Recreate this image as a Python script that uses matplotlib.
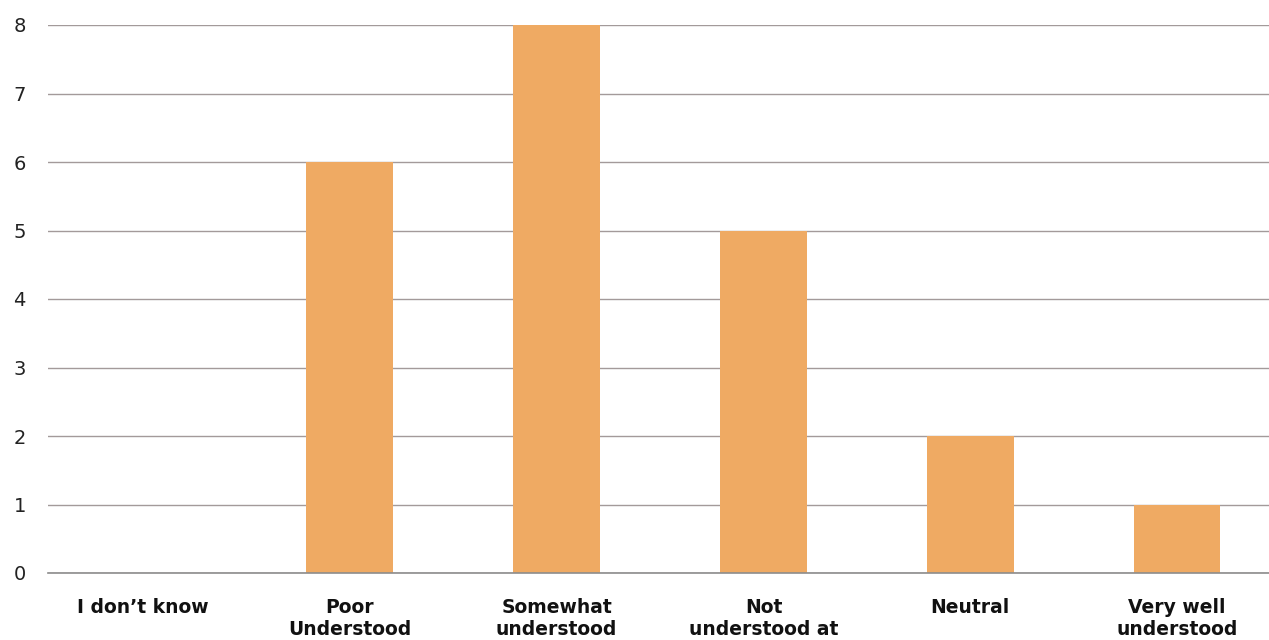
import matplotlib
matplotlib.use("Agg")
import matplotlib.pyplot as plt

# Survey responses: how well the topic is understood
categories = ["I don\u2019t know", "Poor\nUnderstood", "Somewhat\nunderstood",
              "Not\nunderstood at\nall", "Neutral", "Very well\nunderstood"]
counts = [0, 6, 8, 5, 2, 1]
y_ticks = [0, 1, 2, 3, 4, 5, 6, 7, 8]

bar_color = "#EFAA63"
grid_color = "#A39A9A"

plt.rcParams["font.family"] = ["DejaVu Sans"]

fig = plt.figure(figsize=(12.69, 6.40), dpi=100)
ax = fig.add_axes([48 / 1269, 67 / 640, 1 - 48 / 1269, (573 - 25) / 640])

x = list(range(len(categories)))
ax.bar(x, counts, width=0.42, color=bar_color, zorder=3)

ax.set_ylim(0, 8)
ax.set_xlim(-0.46, 5.445)
ax.set_yticks(y_ticks)
ax.set_yticklabels([str(v) for v in y_ticks], fontsize=14, color="#222222")
ax.set_xticks(x)
ax.set_xticklabels(categories, fontsize=13.5, fontweight="bold", color="#111111",
                   va="top", linespacing=1.2)

ax.tick_params(axis="y", length=0, pad=16)
ax.tick_params(axis="x", length=0, pad=18)

ax.grid(axis="y", color=grid_color, linewidth=1, zorder=0)
ax.set_axisbelow(True)
for side in ("top", "right", "left"):
    ax.spines[side].set_visible(False)
ax.spines["bottom"].set_color("#8C8C8C")
ax.spines["bottom"].set_linewidth(1.2)
ax.spines["bottom"].set_zorder(4)

fig.savefig("out.png", dpi=100)
